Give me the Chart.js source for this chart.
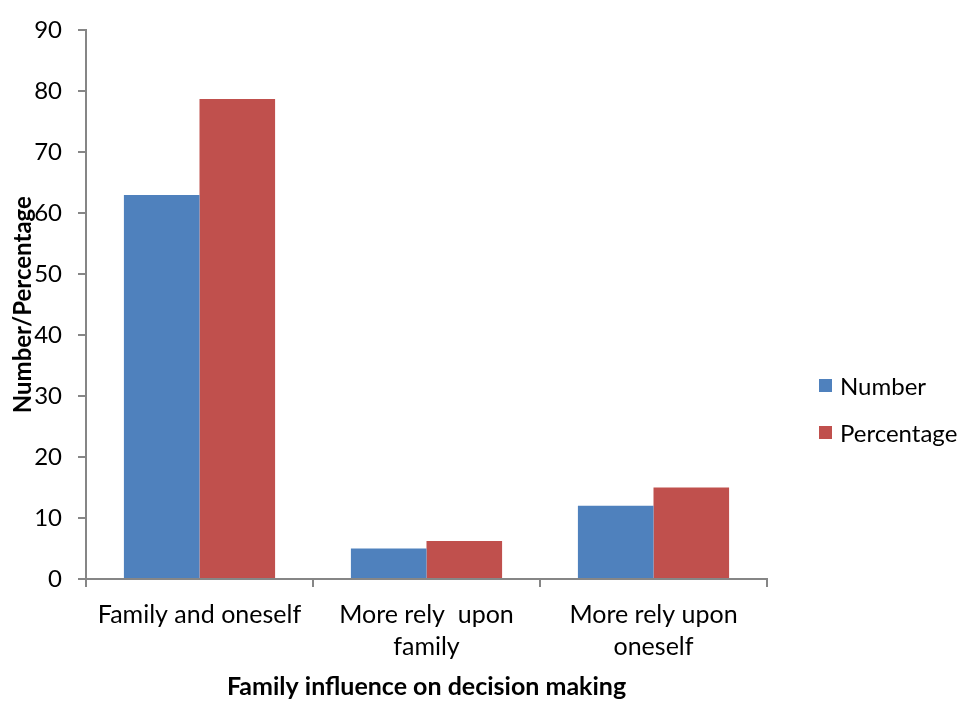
<!DOCTYPE html>
<html>
<head>
<meta charset="utf-8">
<script src="https://cdn.jsdelivr.net/npm/chart.js@4.4.0/dist/chart.umd.min.js"></script>
<style>
  body { margin: 0; background: #fff; }
  #wrap { position: relative; width: 962px; height: 702px; }
  #legend { position: absolute; left: 819px; top: 362px; font-family: Lato, sans-serif; font-size: 24px; color: #000; }
  #legend div { display: flex; align-items: center; height: 47px; }
  #legend span.box { width: 13px; height: 13px; margin-right: 8px; display: inline-block; }
</style>
</head>
<body>
<div id="wrap">
  <canvas id="chart" width="962" height="702"></canvas>
  <div id="legend"></div>
</div>
<script>
// data
const categories = ['Family and oneself', ['More rely  upon', 'family'], ['More rely upon', 'oneself']];
const numberValues = [63, 5, 12];
const percentValues = [78.75, 6.25, 15];
const seriesNames = ['Number', 'Percentage'];
const seriesColors = ['#4F81BD', '#C0504D'];

const axisGray = '#868686';
const fontFamily = 'Lato, sans-serif';

// y axis title drawn by hand so it can overlap the tick labels like the original
const yTitlePlugin = {
    id: 'yTitle',
    afterDraw(chart) {
        const ctx = chart.ctx;
        const area = chart.chartArea;
        ctx.save();
        ctx.translate(23, (area.top + area.bottom) / 2);
        ctx.rotate(-Math.PI / 2);
        ctx.font = 'bold 24px ' + fontFamily;
        ctx.fillStyle = '#000';
        ctx.textAlign = 'center';
        ctx.textBaseline = 'middle';
        ctx.fillText('Number/Percentage', 0, 0);
        ctx.restore();
    }
};

new Chart(document.getElementById('chart'), {
    type: 'bar',
    data: {
        labels: categories,
        datasets: [
            { label: seriesNames[0], data: numberValues, backgroundColor: seriesColors[0] },
            { label: seriesNames[1], data: percentValues, backgroundColor: seriesColors[1] }
        ]
    },
    options: {
        responsive: false,
        animation: false,
        layout: { padding: { top: 20, right: 195, left: 0, bottom: 0 } },
        datasets: { bar: { categoryPercentage: 0.666, barPercentage: 1 } },
        plugins: { legend: { display: false }, tooltip: { enabled: false } },
        scales: {
            x: {
                grid: { drawOnChartArea: false, color: axisGray, lineWidth: 2, tickLength: 8, offset: true },
                border: { color: axisGray, width: 2 },
                ticks: { color: '#000', padding: 12, maxRotation: 0, font: { family: fontFamily, size: 25, lineHeight: 1.28 } },
                title: { display: true, text: 'Family influence on decision making', color: '#000',
                         font: { family: fontFamily, size: 25, weight: 'bold' }, padding: { top: 0, bottom: 0 } },
                afterFit(scale) { scale.height = 123; }
            },
            y: {
                min: 0, max: 90,
                grid: { drawOnChartArea: false, color: axisGray, lineWidth: 2, tickLength: 8 },
                border: { color: axisGray, width: 2 },
                ticks: { stepSize: 10, color: '#000', padding: 16, font: { family: fontFamily, size: 24 } },
                afterFit(scale) { scale.width = 86; }
            }
        }
    },
    plugins: [yTitlePlugin]
});

// legend
const legend = document.getElementById('legend');
seriesNames.forEach((name, i) => {
    legend.innerHTML += `<div><span class="box" style="background:${seriesColors[i]}"></span>${name}</div>`;
});
</script>
</body>
</html>
